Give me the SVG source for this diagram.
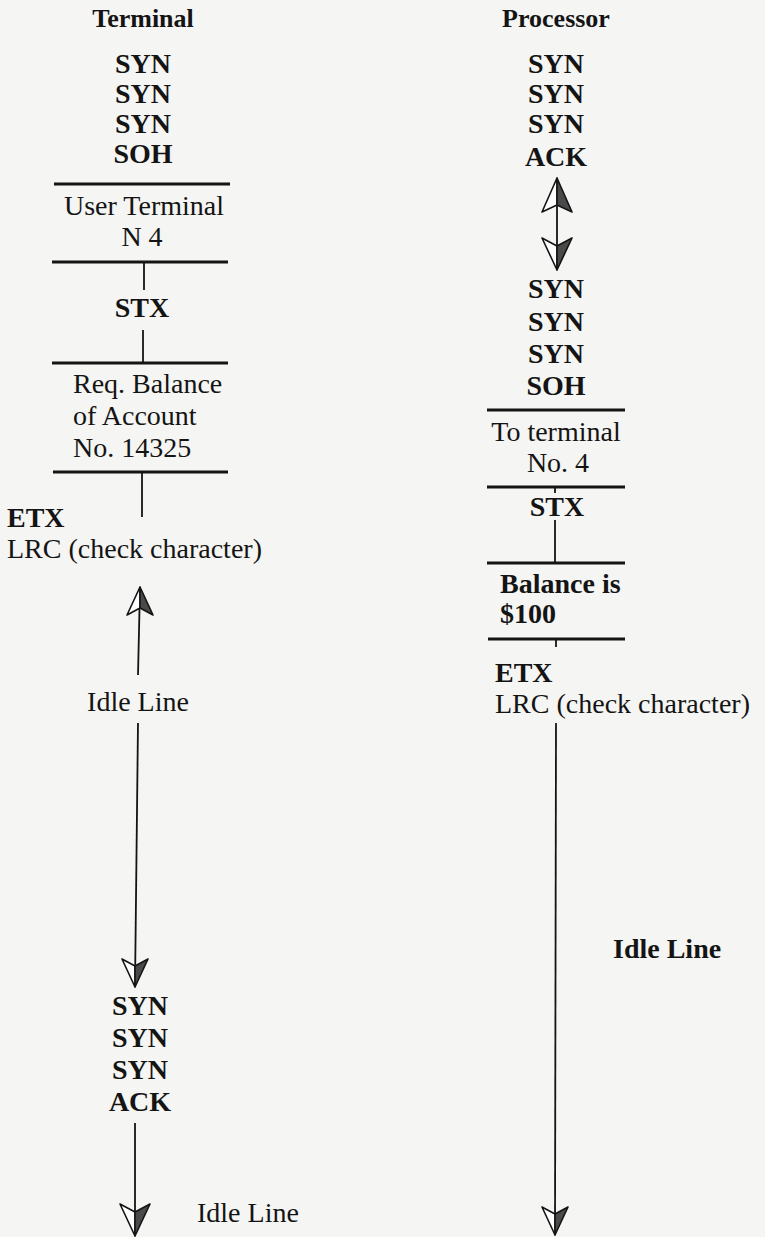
<svg xmlns="http://www.w3.org/2000/svg" width="765" height="1237" viewBox="0 0 765 1237">
<style>
  text { font-family: "Liberation Serif", "Times New Roman", serif; fill: #141414; }
  .t { font-size: 26px; font-weight: bold; text-anchor: middle; }
  .c { font-size: 28px; font-weight: bold; }
  .r { font-size: 28px; }
  .m { text-anchor: middle; }
  .hr { stroke: #141414; stroke-width: 3; fill: none; }
  .v { stroke: #141414; stroke-width: 1.8; fill: none; }
  .ln { stroke: #141414; stroke-width: 1.8; fill: none; }
  .aw { fill: #ffffff; stroke: #141414; stroke-width: 1.6; stroke-linejoin: round; }
  .ah { fill: #4a4a4a; stroke: #141414; stroke-width: 1.6; stroke-linejoin: round; }
</style>
<defs>
  <marker id="mUp" markerUnits="userSpaceOnUse" viewBox="0 0 30 30" markerWidth="30" markerHeight="30" refX="15" refY="0" orient="0" overflow="visible">
    <path class="aw" d="M15,0 L2,28 L15,21 Z"/>
    <path class="ah" d="M15,0 L28,28 L15,21 Z"/>
  </marker>
  <marker id="mDown" markerUnits="userSpaceOnUse" viewBox="0 0 30 30" markerWidth="30" markerHeight="30" refX="15" refY="30" orient="0" overflow="visible">
    <path class="aw" d="M15,30 L2,2 L15,9 Z"/>
    <path class="ah" d="M15,30 L28,2 L15,9 Z"/>
  </marker>
  <marker id="mUpL" markerUnits="userSpaceOnUse" viewBox="0 0 34 36" markerWidth="34" markerHeight="36" refX="17" refY="0" orient="0" overflow="visible">
    <path class="aw" d="M17,0 L2,34 L17,27 Z"/>
    <path class="ah" d="M17,0 L32,34 L17,27 Z"/>
  </marker>
  <marker id="mDownL" markerUnits="userSpaceOnUse" viewBox="0 0 34 34" markerWidth="34" markerHeight="34" refX="17" refY="34" orient="0" overflow="visible">
    <path class="aw" d="M17,34 L2,2 L17,10 Z"/>
    <path class="ah" d="M17,34 L32,2 L17,10 Z"/>
  </marker>
</defs>

<rect width="765" height="1237" fill="#f5f5f3"/>

<!-- Terminal column -->
<g id="terminal-title"><text class="t" x="143" y="27">Terminal</text></g>
<g id="terminal-sync">
  <text class="c m" x="143" y="73">SYN</text>
  <text class="c m" x="143" y="103">SYN</text>
  <text class="c m" x="143" y="133">SYN</text>
  <text class="c m" x="143" y="163">SOH</text>
</g>
<g id="terminal-header">
  <line class="hr" x1="54" y1="184" x2="230" y2="184"/>
  <text class="r m" x="144" y="215">User Terminal</text>
  <text class="r m" x="142" y="246">N 4</text>
  <line class="hr" x1="52" y1="262" x2="228" y2="262"/>
</g>
<g id="terminal-stx">
  <text class="c m" x="142" y="317">STX</text>
</g>
<g id="terminal-text">
  <line class="hr" x1="52" y1="363" x2="228" y2="363"/>
  <text class="r" x="73" y="393">Req. Balance</text>
  <text class="r" x="73" y="425">of Account</text>
  <text class="r" x="73" y="457">No. 14325</text>
  <line class="hr" x1="53" y1="472" x2="228" y2="472"/>
</g>
<g id="terminal-etx">
  <text class="c" x="7" y="527">ETX</text>
  <text class="r" x="7" y="558">LRC (check character)</text>
</g>
<g id="terminal-idle1"><text class="r m" x="138" y="711">Idle Line</text></g>
<g id="terminal-ack">
  <text class="c m" x="140" y="1015">SYN</text>
  <text class="c m" x="140" y="1047">SYN</text>
  <text class="c m" x="140" y="1079">SYN</text>
  <text class="c m" x="140" y="1111">ACK</text>
</g>
<g id="terminal-idle2"><text class="r" x="197" y="1222">Idle Line</text></g>

<!-- Processor column -->
<g id="processor-title"><text class="t" x="556" y="27">Processor</text></g>
<g id="processor-ack">
  <text class="c m" x="556" y="73">SYN</text>
  <text class="c m" x="556" y="103">SYN</text>
  <text class="c m" x="556" y="133">SYN</text>
  <text class="c m" x="556" y="166">ACK</text>
</g>
<g id="processor-sync">
  <text class="c m" x="556" y="298">SYN</text>
  <text class="c m" x="556" y="331">SYN</text>
  <text class="c m" x="556" y="363">SYN</text>
  <text class="c m" x="556" y="395">SOH</text>
</g>
<g id="processor-header">
  <line class="hr" x1="487" y1="410" x2="625" y2="410"/>
  <text class="r m" x="556" y="441">To terminal</text>
  <text class="r m" x="558" y="472">No. 4</text>
  <line class="hr" x1="487" y1="487" x2="625" y2="487"/>
</g>
<g id="processor-stx">
  <text class="c m" x="557" y="516">STX</text>
</g>
<g id="processor-text">
  <line class="hr" x1="487" y1="563" x2="625" y2="563"/>
  <text class="c" x="500" y="593">Balance is</text>
  <text class="c" x="500" y="623">$100</text>
  <line class="hr" x1="488" y1="639" x2="625" y2="639"/>
</g>
<g id="processor-etx">
  <text class="c" x="495" y="682">ETX</text>
  <text class="r" x="495" y="713">LRC (check character)</text>
</g>
<g id="processor-idle"><text class="c" x="613" y="958">Idle Line</text></g>

<!-- Connectors -->
<g id="connectors">
  <line class="v" x1="144" y1="262" x2="144" y2="290"/>
  <line class="v" x1="143" y1="330" x2="143" y2="363"/>
  <line class="v" x1="142" y1="472" x2="142" y2="517"/>
  <path class="ln" d="M138,675 L140,587" marker-end="url(#mUp)"/>
  <path class="ln" d="M138,723 L135,987" marker-end="url(#mDown)"/>
  <path class="ln" d="M135,1123 L135,1236" marker-end="url(#mDownL)"/>

  <path class="ln" d="M557,178 L557,270" marker-start="url(#mUpL)" marker-end="url(#mDownL)"/>
  <line class="v" x1="555" y1="487" x2="555" y2="493"/>
  <line class="v" x1="555" y1="520" x2="555" y2="563"/>
  <line class="v" x1="556" y1="639" x2="556" y2="647"/>
  <path class="ln" d="M556,723 L555,1235" marker-end="url(#mDown)"/>
</g>
</svg>
